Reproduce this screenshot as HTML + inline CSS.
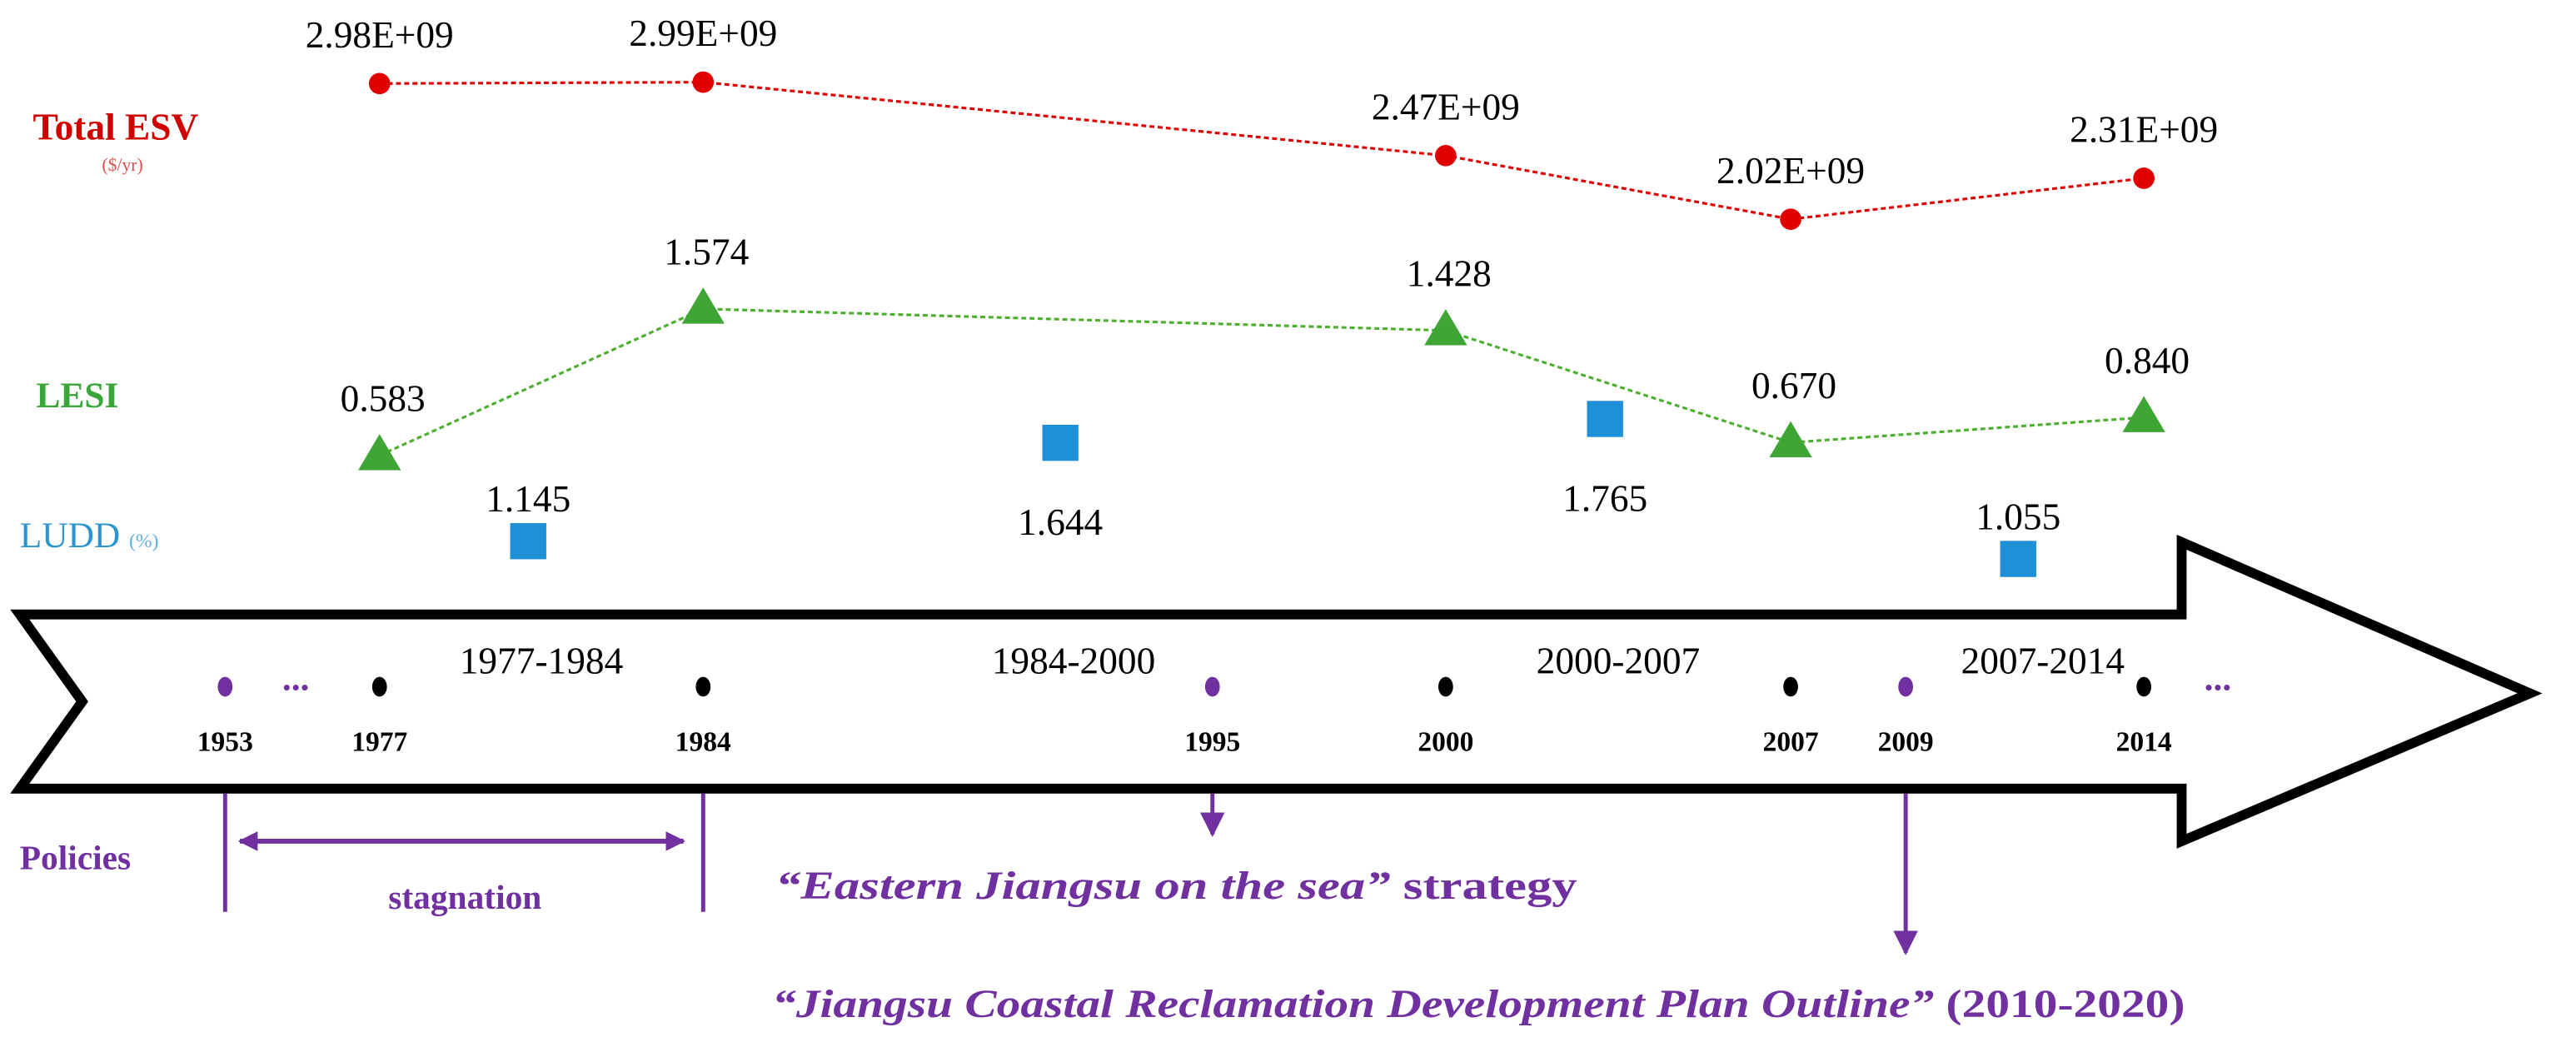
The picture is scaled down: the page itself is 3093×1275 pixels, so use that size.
<!DOCTYPE html>
<html><head><meta charset="utf-8"><style>
html,body{margin:0;padding:0;background:#fff}
svg{display:block}
text{font-family:"Liberation Serif",serif}
</style></head><body>
<svg id="chart" width="3093" height="1275" viewBox="0 0 1568 646.4" xmlns="http://www.w3.org/2000/svg">
<defs>
<marker id="ah" viewBox="0 0 10 10" refX="9" refY="5" markerWidth="4" markerHeight="4" orient="auto-start-reverse"><path d="M0,0 L10,5 L0,10 z" fill="#7030a0"/></marker>
<marker id="ahb" viewBox="0 0 10 10" refX="9" refY="5" markerWidth="6" markerHeight="6" orient="auto"><path d="M0,0 L10,5 L0,10 z" fill="#7030a0"/></marker>
</defs>
<g id="labels">
<text x="20" y="85" font-size="23" font-weight="bold" fill="#d00000">Total ESV</text>
<text x="62" y="104" font-size="11" fill="#e05050">($/yr)</text>
<text x="22" y="248" font-size="22" font-weight="bold" fill="#3aa63a">LESI</text>
<text x="12" y="333" font-size="22" fill="#2c95d0">LUDD <tspan font-size="12" fill="#60b0e0">(%)</tspan></text>
</g>
<path d="M12,374 L1328,374 L1328,330 L1540,422 L1328,512 L1328,480 L12,480 L50,427 Z" fill="#fff" stroke="#000" stroke-width="6" stroke-linejoin="miter"/>
<g id="timeline"></g>
<g id="policies">
<line x1="137" y1="483" x2="137" y2="555" stroke="#7030a0" stroke-width="2.5"/>
<line x1="428" y1="483" x2="428" y2="555" stroke="#7030a0" stroke-width="2.5"/>
<line x1="146" y1="512" x2="416" y2="512" stroke="#7030a0" stroke-width="3" marker-start="url(#ah)" marker-end="url(#ah)"/>
<text x="12" y="529" font-size="21" font-weight="bold" fill="#7030a0">Policies</text>
<text x="283" y="553" text-anchor="middle" font-size="21" font-weight="bold" fill="#7030a0">stagnation</text>
<line x1="738" y1="483" x2="738" y2="508" stroke="#7030a0" stroke-width="2.5" marker-end="url(#ahb)"/>
<text x="472" y="547" font-size="24" font-weight="bold" fill="#7030a0" textLength="488" lengthAdjust="spacingAndGlyphs"><tspan font-style="italic">“Eastern Jiangsu on the sea”</tspan> strategy</text>
<line x1="1160" y1="483" x2="1160" y2="580" stroke="#7030a0" stroke-width="2.5" marker-end="url(#ahb)"/>
<text x="470" y="619" font-size="24" font-weight="bold" fill="#7030a0" textLength="860" lengthAdjust="spacingAndGlyphs"><tspan font-style="italic">“Jiangsu Coastal Reclamation Development Plan Outline”</tspan> (2010-2020)</text>
</g>
<g id="series"></g>
</svg>
<script>
const esvYears=[1977,1984,2000,2007,2014];
const esvValues=[2.98,2.99,2.47,2.02,2.31];
const esvLabels=["2.98E+09","2.99E+09","2.47E+09","2.02E+09","2.31E+09"];
const lesiYears=[1977,1984,2000,2007,2014];
const lesiValues=[0.583,1.574,1.428,0.670,0.840];
const luddYears=[1980.5,1992,2003.5,2010.5];
const luddValues=[1.145,1.644,1.765,1.055];
const tickYears=[1953,1977,1984,1995,2000,2007,2009,2014];
const tickPolicy=[true,false,false,true,false,false,true,false];
const periodLabels=["1977-1984","1984-2000","2000-2007","2007-2014"];
const periodMid=[1980.5,1992,2003.5,2010.5];

const NS="http://www.w3.org/2000/svg";
const axD=[1953,1977,1984,1995,2000,2007,2009,2014,2020];
const axR=[137,231,428,738,880,1090,1160,1305,1480];
function xS(y){for(let i=0;i<axD.length-1;i++){if(y<=axD[i+1]||i==axD.length-2){const t=(y-axD[i])/(axD[i+1]-axD[i]);return axR[i]+t*(axR[i+1]-axR[i]);}}}
function yEsv(v){return 50+(2.99-v)*86;}
function yLesi(v){return 188+(1.574-v)*90;}
function yLudd(v){return 255+(1.765-v)*120;}
function mk(tag,attrs,parent){const e=document.createElementNS(NS,tag);for(const k in attrs)e.setAttribute(k,attrs[k]);parent.appendChild(e);return e;}
const tl=document.getElementById('timeline');
tickYears.forEach((yr,i)=>{
 const c=mk('ellipse',{cx:xS(yr),cy:418,rx:4.5,ry:6,fill:tickPolicy[i]?'#7030a0':'#000'},tl);
 
 
 const t=mk('text',{x:xS(yr),y:457,'text-anchor':'middle','font-size':17,'font-weight':'bold',fill:'#000'},tl);
 t.textContent=yr;
 
 
});
periodLabels.forEach((p,i)=>{
 const t=mk('text',{x:xS(periodMid[i])+(i==3?40:0),y:410,'text-anchor':'middle','font-size':23,fill:'#000'},tl);
 t.textContent=p;
 
 
});
[{x:180},{x:1350}].forEach((d,i)=>{
 const t=mk('text',{x:d.x,y:420,'text-anchor':'middle','font-size':22,'font-weight':'bold',fill:'#7030a0'},tl);
 t.textContent='...';
 
 
});
const sg=document.getElementById('series');
const esvPts=esvYears.map((y,i)=>[xS(y),yEsv(esvValues[i])]);
const el1=mk('polyline',{points:esvPts.map(p=>p.join(',')).join(' '),fill:'none',stroke:'#e00000','stroke-width':1.6,'stroke-dasharray':'3,2'},sg);


esvPts.forEach((p,i)=>{
 const c=mk('circle',{cx:p[0],cy:p[1],r:6.5,fill:'#e00000'},sg);
 
 
 const t=mk('text',{x:p[0],y:p[1]-22,'text-anchor':'middle','font-size':23,fill:'#000'},sg);
 t.textContent=esvLabels[i];
 
 
});
const lesiPts=lesiYears.map((y,i)=>[xS(y),yLesi(lesiValues[i])]);
const el2=mk('polyline',{points:lesiPts.map(p=>p.join(',')).join(' '),fill:'none',stroke:'#4caf30','stroke-width':1.6,'stroke-dasharray':'3,2'},sg);


lesiPts.forEach((p,i)=>{
 const [x,y]=p;
 const tr=mk('polygon',{points:`${x},${y-13} ${x-13},${y+9} ${x+13},${y+9}`,fill:'#3fa535'},sg);
 
 
 const t=mk('text',{x:x+2,y:y-27,'text-anchor':'middle','font-size':23,fill:'#000'},sg);
 t.textContent=lesiValues[i].toFixed(3);
 
 
});
luddYears.forEach((yr,i)=>{
 const x=xS(yr)+(i==3?25:-8), y=yLudd(luddValues[i]);
 const r=mk('rect',{x:x-11,y:y-11,width:22,height:22,fill:'#1e90d8'},sg);
 
 
 const up=(i==0||i==3);
 const t=mk('text',{x:x,y:up?y-18:y+56,'text-anchor':'middle','font-size':23,fill:'#000'},sg);
 t.textContent=luddValues[i].toFixed(3);
 
 
});
</script>
</body></html>
